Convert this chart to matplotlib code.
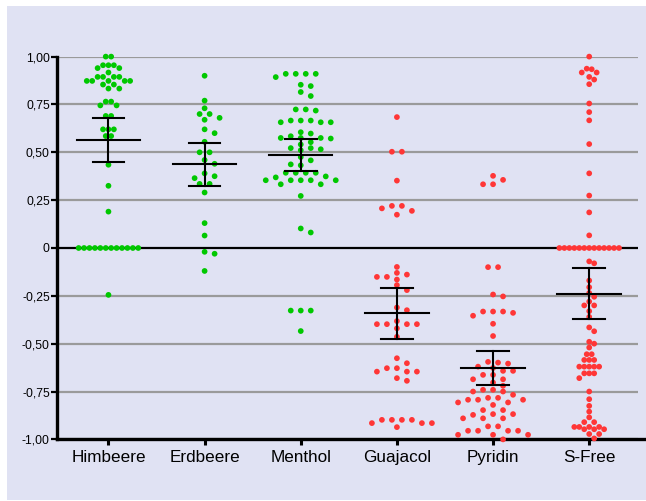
import numpy as np
import matplotlib
matplotlib.use("Agg")
import matplotlib.pyplot as plt
from matplotlib.patches import Rectangle

plt.rcParams['font.family'] = ['Liberation Sans', 'DejaVu Sans']

categories = ["Himbeere", "Erdbeere", "Menthol", "Guajacol", "Pyridin", "S-Free"]

himbeere = [1.00, 1.00, 0.955, 0.955, 0.955, 0.94, 0.94, 0.917,
            0.894, 0.894, 0.894, 0.894, 0.873, 0.873, 0.873, 0.873, 0.873,
            0.854, 0.854, 0.833, 0.833, 0.765, 0.765, 0.745, 0.745,
            0.69, 0.69, 0.62, 0.62, 0.62, 0.585, 0.585, 0.435, 0.325, 0.19,
            0, 0, 0, 0, 0, 0, 0, 0, 0, 0, 0, 0, -0.245]

erdbeere = [0.90, 0.77, 0.73, 0.70, 0.70, 0.68, 0.67, 0.62, 0.60, 0.555,
            0.50, 0.50, 0.46, 0.44, 0.39, 0.375, 0.365, 0.335, 0.335, 0.29,
            0.13, 0.065, -0.02, -0.03, -0.12]

menthol = [0.91, 0.91, 0.91, 0.91, 0.893, 0.853, 0.846, 0.815, 0.794,
           0.724, 0.724, 0.718, 0.666, 0.666, 0.666, 0.657, 0.657, 0.657,
           0.605, 0.598, 0.584, 0.575, 0.575, 0.575, 0.572, 0.553, 0.541,
           0.522, 0.522, 0.516, 0.511, 0.475, 0.458, 0.437, 0.432,
           0.393, 0.393, 0.393, 0.393, 0.374, 0.369,
           0.354, 0.354, 0.354, 0.354, 0.354, 0.333, 0.333, 0.272,
           0.102, 0.081, -0.327, -0.327, -0.327, -0.434]

guajacol = [0.684, 0.503, 0.503, 0.352, 0.22, 0.22, 0.207, 0.194, 0.174,
            -0.099, -0.13, -0.139, -0.151, -0.151, -0.165, -0.194, -0.22,
            -0.311, -0.325, -0.382, -0.398, -0.398, -0.398, -0.398, -0.42, -0.464,
            -0.576, -0.602, -0.628, -0.628, -0.646, -0.646, -0.646, -0.68, -0.694,
            -0.898, -0.898, -0.898, -0.898, -0.915, -0.915, -0.915, -0.936]

pyridin = [0.377, 0.356, 0.333, 0.333, -0.10, -0.10, -0.243, -0.253,
           -0.332, -0.332, -0.332, -0.339, -0.354, -0.396, -0.46,
           -0.595, -0.599, -0.604, -0.62, -0.627, -0.642, -0.642,
           -0.663, -0.663, -0.686, -0.686, -0.703, -0.72, -0.741, -0.741,
           -0.75, -0.75, -0.767, -0.783, -0.783, -0.793, -0.793, -0.793,
           -0.807, -0.807, -0.82, -0.847, -0.847, -0.868, -0.868, -0.872,
           -0.89, -0.89, -0.89, -0.932, -0.932, -0.955, -0.955, -0.955, -0.955,
           -0.976, -0.976, -0.976, -1.0]

s_free = [1.0, 0.937, 0.934, 0.917, 0.917, 0.894, 0.88, 0.856,
          0.755, 0.71, 0.667, 0.543, 0.39, 0.274, 0.186, 0.066,
          0, 0, 0, 0, 0, 0, 0, 0, 0, 0, 0, 0, 0,
          -0.07, -0.08, -0.17, -0.205, -0.235, -0.255, -0.28, -0.30, -0.30, -0.33, -0.36,
          -0.415, -0.435, -0.49, -0.50, -0.52,
          -0.555, -0.555, -0.585, -0.585, -0.585, -0.62, -0.62, -0.62, -0.62, -0.62,
          -0.655, -0.655, -0.655, -0.68,
          -0.75, -0.79, -0.825, -0.855, -0.885, -0.91, -0.91, -0.935, -0.935, -0.935,
          -0.935, -0.947, -0.947, -0.947, -0.972, -0.972, -0.995]

groups = [himbeere, erdbeere, menthol, guajacol, pyridin, s_free]
colors = ["#00c800", "#00c800", "#00c800", "#ff3636", "#ff3636", "#ff3636"]

yticks = [1.0, 0.75, 0.5, 0.25, 0, -0.25, -0.5, -0.75, -1.0]
ytick_labels = ["1,00", "0,75", "0,50", "0,25", "0", "-0,25", "-0,50", "-0,75", "-1,00"]


def swarm(vals, dot_h=0.028):
    # grid swarm like prism: equal values sit side by side, close ones stagger
    vals = np.asarray(vals, dtype=float)
    order = np.argsort(-vals, kind="stable")
    ties = []
    for i in order:
        if ties and abs(vals[ties[-1][0]] - vals[i]) < 0.006:
            ties[-1].append(i)
        else:
            ties.append([i])
    widest = max(len(r) for r in ties)
    sx = min(0.104, 0.62 / max(widest - 1, 1))
    pos = np.zeros(len(vals))
    placed = []

    def free(c, v):
        return all(abs(c - pc) >= 0.95 or abs(v - pv) >= dot_h for pc, pv in placed)

    for grp in ties:
        base = np.arange(len(grp)) - (len(grp) - 1) / 2
        done = False
        for shift in [0, 0.5, -0.5, 1, -1]:
            cand = base + shift
            if all(free(c, vals[i]) for c, i in zip(cand, grp)):
                for c, i in zip(cand, grp):
                    pos[i] = c
                    placed.append((c, vals[i]))
                done = True
                break
        if done:
            continue
        steps = [0.0]
        for s in np.arange(0.5, 8.01, 0.5):
            steps += [s, -s] if len(placed) % 2 else [-s, s]
        for i in grp:
            for c in steps:
                if free(c, vals[i]):
                    break
            pos[i] = c
            placed.append((c, vals[i]))
    return pos * sx


fig = plt.figure(figsize=(6.46, 5.01), dpi=100, facecolor="white")
fig.patches.append(Rectangle((0.011, 0.002), 0.989, 0.986, transform=fig.transFigure,
                             facecolor="#e0e2f3", edgecolor="none", zorder=-10))
ax = fig.add_axes([0.089, 0.123, 0.899, 0.764])
ax.set_facecolor("none")

for y in yticks:
    if y == 0:
        ax.axhline(0, color="black", lw=1.6, zorder=1)
    else:
        ax.axhline(y, color="#9a9a9a", lw=1.6, zorder=1)

for k, (vals, col) in enumerate(zip(groups, colors)):
    vals = np.asarray(vals)
    xs = k + swarm(vals)
    ax.scatter(xs, vals, s=17, color=col, edgecolors="none", zorder=3, clip_on=False)
    n = len(vals)
    m = vals.mean()
    se = vals.std(ddof=1) / np.sqrt(n)
    t = 1.96 + 2.4 / (n - 1)
    lo, hi = m - t * se, m + t * se
    ax.plot([k - 0.33, k + 0.33], [m, m], color="black", lw=1.5, zorder=4)
    ax.plot([k, k], [lo, hi], color="black", lw=1.5, zorder=4)
    ax.plot([k - 0.165, k + 0.165], [lo, lo], color="black", lw=1.5, zorder=4)
    ax.plot([k - 0.165, k + 0.165], [hi, hi], color="black", lw=1.5, zorder=4)

ax.set_xlim(-0.53, 5.51)
ax.set_ylim(-1.0, 1.0)
ax.set_yticks(yticks)
ax.set_yticklabels(ytick_labels, fontsize=8.7)
ax.set_xticks(range(len(categories)))
ax.set_xticklabels(categories, fontsize=12.3)
ax.tick_params(axis="y", direction="out", length=4, width=1.6, pad=1.5)
ax.tick_params(axis="x", direction="out", length=4, width=2.2, pad=4)
for side in ["top", "right"]:
    ax.spines[side].set_visible(False)
ax.spines["left"].set_linewidth(2.4)
ax.spines["bottom"].set_linewidth(2.4)
ax.spines["bottom"].set_bounds(-0.53, 5.6)

fig.savefig("out.png", dpi=100, facecolor="white")
